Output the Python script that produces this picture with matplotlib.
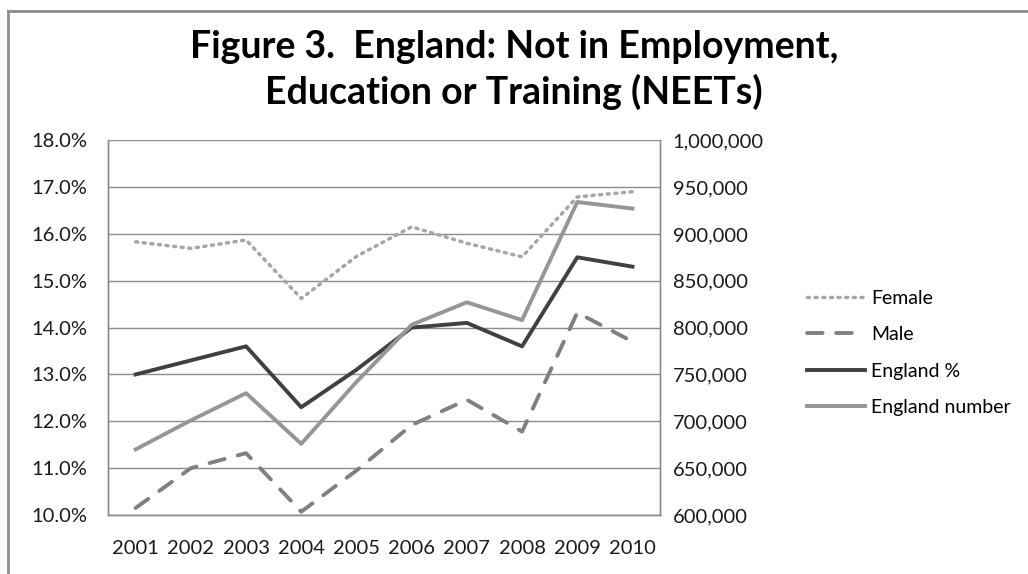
import numpy as np
import matplotlib
matplotlib.use("Agg")
import matplotlib.pyplot as plt
from matplotlib.ticker import FuncFormatter, MultipleLocator

plt.rcParams['font.family'] = ['Lato', 'DejaVu Sans']

# data
years = ['2001', '2002', '2003', '2004', '2005', '2006', '2007', '2008', '2009', '2010']
female_pct = [15.83, 15.69, 15.87, 14.62, 15.52, 16.15, 15.80, 15.51, 16.79, 16.90]
male_pct = [10.15, 11.00, 11.32, 10.07, 10.95, 11.92, 12.46, 11.78, 14.32, 13.70]
england_pct = [13.0, 13.3, 13.6, 12.3, 13.1, 14.0, 14.1, 13.6, 15.5, 15.3]
england_number = [670000, 701000, 730000, 676000, 742000, 803000, 827000, 808000, 934000, 927000]

fig = plt.figure(figsize=(10.28, 5.74), dpi=100)
ax = fig.add_axes([0.1051, 0.1028, 0.537, 0.653])
ax2 = ax.twinx()

x = np.arange(len(years))
l1, = ax.plot(x, female_pct, color='#a6a6a6', lw=2.5, linestyle=(0, (0.6, 1.6)),
              dash_capstyle='round', label='Female')
l2, = ax.plot(x, male_pct, color='#808080', lw=2.8, linestyle=(0, (4, 3.5)),
              dash_capstyle='round', label='Male')
l3, = ax.plot(x, england_pct, color='#404040', lw=2.8, label='England %')
l4, = ax2.plot(x, england_number, color='#969696', lw=2.8, label='England number')

ax.set_xlim(-0.5, len(years) - 0.5)
ax.set_ylim(10, 18)
ax2.set_ylim(600000, 1000000)
ax.yaxis.set_major_locator(MultipleLocator(1))
ax2.yaxis.set_major_locator(MultipleLocator(50000))
ax.yaxis.set_major_formatter(FuncFormatter(lambda v, p: f'{v:.1f}%'))
ax2.yaxis.set_major_formatter(FuncFormatter(lambda v, p: f'{int(v):,}'))
ax.set_xticks(x)
ax.set_xticklabels(years)

ax.grid(axis='y', color='#8c8c8c', lw=1)
ax.set_axisbelow(True)
for a in (ax, ax2):
    a.spines['top'].set_visible(False)
    for s in ('left', 'right', 'bottom'):
        a.spines[s].set_color('#8c8c8c')
        a.spines[s].set_linewidth(1)
    a.tick_params(length=0, labelsize=14.5, colors='#1a1a1a')
ax.tick_params(axis='y', pad=15)
ax2.tick_params(axis='y', pad=9)
ax.tick_params(axis='x', pad=18)

fig.text(0.5, 0.878, 'Figure 3.  England: Not in Employment,\nEducation or Training (NEETs)',
         ha='center', va='center', fontsize=27, fontweight='bold', linespacing=1.3)

fig.legend(handles=[l1, l2, l3, l4], loc='center left', bbox_to_anchor=(0.768, 0.385),
           frameon=False, fontsize=14, handlelength=3.0, handletextpad=0.3,
           labelspacing=1.0)

# outer chart border
fig.add_artist(plt.Line2D([0.008, 0.008], [0, 0.981], color='#8c8c8c', lw=2))
fig.add_artist(plt.Line2D([0.008, 1.0], [0.981, 0.981], color='#8c8c8c', lw=2))

fig.savefig('out.png', dpi=100)
